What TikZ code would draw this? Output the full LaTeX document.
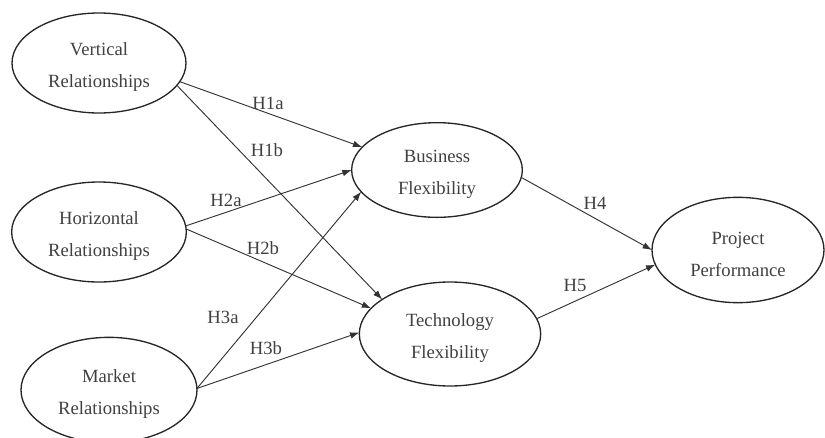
\documentclass[tikz,border=0pt]{standalone}
\usepackage{fontspec}
\setmainfont{Liberation Serif}
\usetikzlibrary{shapes.geometric,arrows.meta}
\newcommand{\toppad}{\rule{0pt}{16pt}}
\begin{document}
\begin{tikzpicture}[x=0.75pt,y=-0.75pt,
  latent/.style={ellipse,draw=black!85,line width=1pt,inner sep=0pt,outer sep=0pt,
    align=center,text=black!75,font=\fontsize{14}{24}\selectfont},
  path/.style={draw=black!80,line width=0.7pt,-{Latex[length=7pt,width=5pt]}},
  hlab/.style={text=black!75,font=\fontsize{14}{16}\selectfont,inner sep=1pt}]
\useasboundingbox (0,0) rectangle (825,437);
\node[latent,minimum width=130.5pt,minimum height=75pt] (v) at (99,63) {\toppad Vertical\\Relationships};
\node[latent,minimum width=131pt,minimum height=75pt] (h) at (99,232) {\toppad Horizontal\\Relationships};
\node[latent,minimum width=132pt,minimum height=79pt] (m) at (109,390) {\toppad Market\\Relationships};
\node[latent,minimum width=128pt,minimum height=71pt] (b) at (437,170) {\toppad Business\\Flexibility};
\node[latent,minimum width=136pt,minimum height=78pt] (t) at (450,334) {\toppad Technology\\Flexibility};
\node[latent,minimum width=129pt,minimum height=79pt] (p) at (738,250) {\toppad Project\\Performance};
\draw[path] (v.-13) -- (b.163);
\draw[path] (v.-16) -- (t.153);
\draw[path] (h.4) -- (b.180);
\draw[path] (h.2) -- (t.162);
\draw[path] (m.1) -- (b.-164);
\draw[path] (m.1) -- (t.179);
\draw[path] (b.-5) -- (p.180);
\draw[path] (t.10) -- (p.-170);
\node[hlab] (l1a) at (268,103) {H1a};
\node[hlab] (l1b) at (267,150) {H1b};
\node[hlab] (l2a) at (226,200) {H2a};
\node[hlab] (l2b) at (263,248) {H2b};
\node[hlab] (l3a) at (223,317) {H3a};
\node[hlab] (l3b) at (266,348) {H3b};
\node[hlab] (l4) at (595,203) {H4};
\node[hlab] (l5) at (575,285) {H5};
\end{tikzpicture}
\end{document}
